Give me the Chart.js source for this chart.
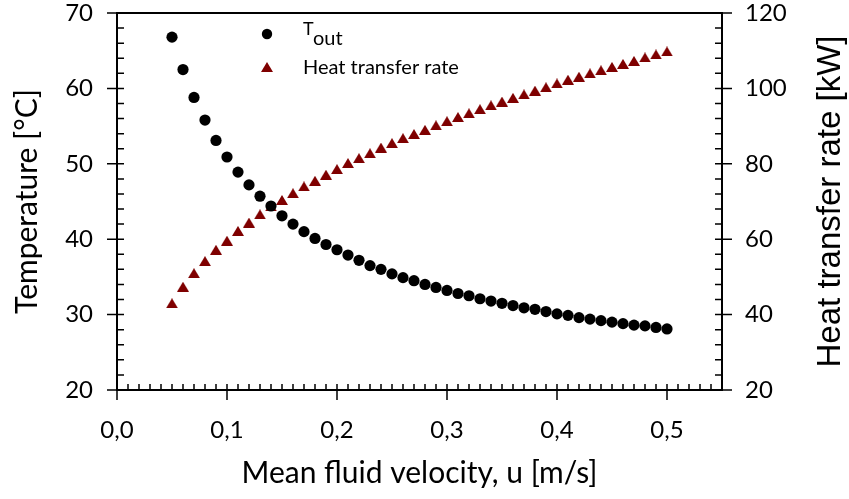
<!DOCTYPE html>
<html>
<head>
<meta charset="utf-8">
<script src="https://cdn.jsdelivr.net/npm/chart.js@4.4.0/dist/chart.umd.min.js"></script>
<style>
    html, body { margin: 0; padding: 0; background: #fff; }
    #wrap { width: 849px; height: 499px; }
</style>
</head>
<body>
<div id="wrap"><canvas id="chart" width="849" height="499"></canvas></div>
<script>
// mean fluid velocity [m/s]
const velocity = [0.05, 0.06, 0.07, 0.08, 0.09, 0.10, 0.11, 0.12, 0.13, 0.14,
    0.15, 0.16, 0.17, 0.18, 0.19, 0.20, 0.21, 0.22, 0.23, 0.24,
    0.25, 0.26, 0.27, 0.28, 0.29, 0.30, 0.31, 0.32, 0.33, 0.34,
    0.35, 0.36, 0.37, 0.38, 0.39, 0.40, 0.41, 0.42, 0.43, 0.44,
    0.45, 0.46, 0.47, 0.48, 0.49, 0.50];

// outlet temperature [°C]
const tOut = [66.8, 62.5, 58.8, 55.8, 53.1, 50.9, 48.9, 47.2, 45.7, 44.4,
    43.1, 42.0, 41.0, 40.1, 39.3, 38.6, 37.9, 37.2, 36.5, 36.0,
    35.4, 34.9, 34.5, 34.0, 33.6, 33.2, 32.8, 32.5, 32.1, 31.8,
    31.5, 31.2, 30.9, 30.7, 30.4, 30.1, 29.9, 29.6, 29.4, 29.2,
    29.0, 28.8, 28.6, 28.5, 28.3, 28.1];

// heat transfer rate [kW]
const heatRate = [43.0, 47.4, 51.0, 54.2, 57.2, 59.6, 62.2, 64.4, 66.6, 68.7,
    70.4, 72.2, 74.0, 75.5, 77.1, 78.6, 80.2, 81.5, 82.8, 84.3,
    85.5, 86.8, 87.9, 89.0, 90.2, 91.3, 92.4, 93.4, 94.5, 95.5,
    96.5, 97.5, 98.4, 99.4, 100.3, 101.3, 102.3, 103.1, 104.0, 104.8,
    105.7, 106.5, 107.3, 108.2, 109.0, 109.8];

const xTickValues = [0, 0.1, 0.2, 0.3, 0.4, 0.5];
const xTickLabels = ['0,0', '0,1', '0,2', '0,3', '0,4', '0,5'];
const leftTickValues = [20, 30, 40, 50, 60, 70];
const rightTickValues = [20, 40, 60, 80, 100, 120];

const RED = '#7f0000';
const TICK_FONT = { family: 'Lato', size: 24 };
const TITLE_FONT = { family: 'Lato', size: 30 };

function makeTriangle(w, h, color) {
    const c = document.createElement('canvas');
    c.width = w;
    c.height = h;
    const g = c.getContext('2d');
    g.fillStyle = color;
    g.beginPath();
    g.moveTo(w / 2, 0);
    g.lineTo(w, h);
    g.lineTo(0, h);
    g.closePath();
    g.fill();
    return c;
}

const triangle = makeTriangle(12, 10, RED);

// scales should not push the plot area around
function noPadding(axis) {
    axis.paddingTop = 0;
    axis.paddingBottom = 0;
    axis.paddingLeft = 0;
    axis.paddingRight = 0;
}

// frame + tick marks (minor ticks point inward, major ticks cross the axis)
const framePlugin = {
    id: 'frame',
    beforeDatasetsDraw(chart) {
        const { ctx, chartArea: a, scales } = chart;
        const x = scales.x, yl = scales.y, yr = scales.y2;
        ctx.save();
        ctx.strokeStyle = '#000';
        ctx.lineWidth = 2;
        ctx.strokeRect(a.left, a.top, a.right - a.left, a.bottom - a.top);

        ctx.lineWidth = 1.5;
        ctx.beginPath();
        for (let i = 0; i <= 55; i++) {
            const px = x.getPixelForValue(i / 100);
            ctx.moveTo(px, a.bottom - 6);
            ctx.lineTo(px, i % 10 === 0 ? a.bottom + 10 : a.bottom);
        }
        for (let v = 20; v <= 70; v += 2) {
            const py = yl.getPixelForValue(v);
            ctx.moveTo(v % 10 === 0 ? a.left - 10 : a.left, py);
            ctx.lineTo(a.left + 7, py);
        }
        for (let v = 20; v <= 120; v += 4) {
            const py = yr.getPixelForValue(v);
            ctx.moveTo(a.right - 7, py);
            ctx.lineTo(v % 20 === 0 ? a.right + 10 : a.right, py);
        }
        ctx.stroke();
        ctx.restore();
    }
};

// legend with subscript and the right axis title (reads bottom to top)
const textPlugin = {
    id: 'texts',
    afterDraw(chart) {
        const { ctx, chartArea: a } = chart;
        ctx.save();
        ctx.fillStyle = '#000';
        ctx.beginPath();
        ctx.arc(267, 34, 5.2, 0, Math.PI * 2);
        ctx.fill();
        ctx.drawImage(triangle, 261, 62);

        ctx.textBaseline = 'alphabetic';
        ctx.textAlign = 'left';
        ctx.font = '18px Lato';
        ctx.fillText('T', 303, 35);
        ctx.font = '20px Lato';
        ctx.fillText('out', 313, 45);
        ctx.fillText('Heat transfer rate', 303, 74);

        ctx.translate(831, (a.top + a.bottom) / 2);
        ctx.rotate(-Math.PI / 2);
        ctx.textAlign = 'center';
        ctx.textBaseline = 'middle';
        ctx.font = "33px 'Liberation Sans', Arial";
        ctx.fillText('Heat transfer rate [kW]', 0, 0);
        ctx.restore();
    }
};

new Chart(document.getElementById('chart'), {
    type: 'scatter',
    data: {
        datasets: [{
            label: 'Tout',
            data: velocity.map((v, i) => ({ x: v, y: tOut[i] })),
            yAxisID: 'y',
            pointStyle: 'circle',
            pointRadius: 5.6,
            pointBorderWidth: 0,
            backgroundColor: '#000',
            borderColor: '#000'
        }, {
            label: 'Heat transfer rate',
            data: velocity.map((v, i) => ({ x: v, y: heatRate[i] })),
            yAxisID: 'y2',
            pointStyle: triangle,
            pointRadius: 6,
            backgroundColor: RED,
            borderColor: RED
        }]
    },
    options: {
        responsive: false,
        animation: false,
        layout: { padding: { top: 13, left: 0, right: 0, bottom: 0 } },
        plugins: {
            legend: { display: false },
            tooltip: { enabled: false }
        },
        scales: {
            x: {
                type: 'linear',
                min: 0,
                max: 0.55,
                grid: { display: false, drawTicks: false },
                border: { display: false },
                afterBuildTicks: axis => { axis.ticks = xTickValues.map(v => ({ value: v })); },
                afterFit: axis => { axis.height = 109; noPadding(axis); },
                ticks: {
                    color: '#000',
                    font: TICK_FONT,
                    padding: 26,
                    maxRotation: 0,
                    callback: (v, i) => xTickLabels[i]
                },
                title: {
                    display: true,
                    text: 'Mean fluid velocity, u [m/s]',
                    color: '#000',
                    font: TITLE_FONT,
                    padding: { top: 0, bottom: 8 }
                }
            },
            y: {
                position: 'left',
                min: 20,
                max: 70,
                grid: { display: false, drawTicks: false },
                border: { display: false },
                afterBuildTicks: axis => { axis.ticks = leftTickValues.map(v => ({ value: v })); },
                afterFit: axis => { axis.width = 117; noPadding(axis); },
                ticks: { color: '#000', font: TICK_FONT, padding: 24 },
                title: {
                    display: true,
                    text: 'Temperature [°C]',
                    color: '#000',
                    font: TITLE_FONT,
                    padding: { top: 9, bottom: 0 }
                }
            },
            y2: {
                position: 'right',
                min: 20,
                max: 120,
                grid: { display: false, drawTicks: false },
                border: { display: false },
                afterBuildTicks: axis => { axis.ticks = rightTickValues.map(v => ({ value: v })); },
                afterFit: axis => { axis.width = 127; noPadding(axis); },
                ticks: { color: '#000', font: TICK_FONT, padding: 23 }
            }
        }
    },
    plugins: [framePlugin, textPlugin]
});
</script>
</body>
</html>
